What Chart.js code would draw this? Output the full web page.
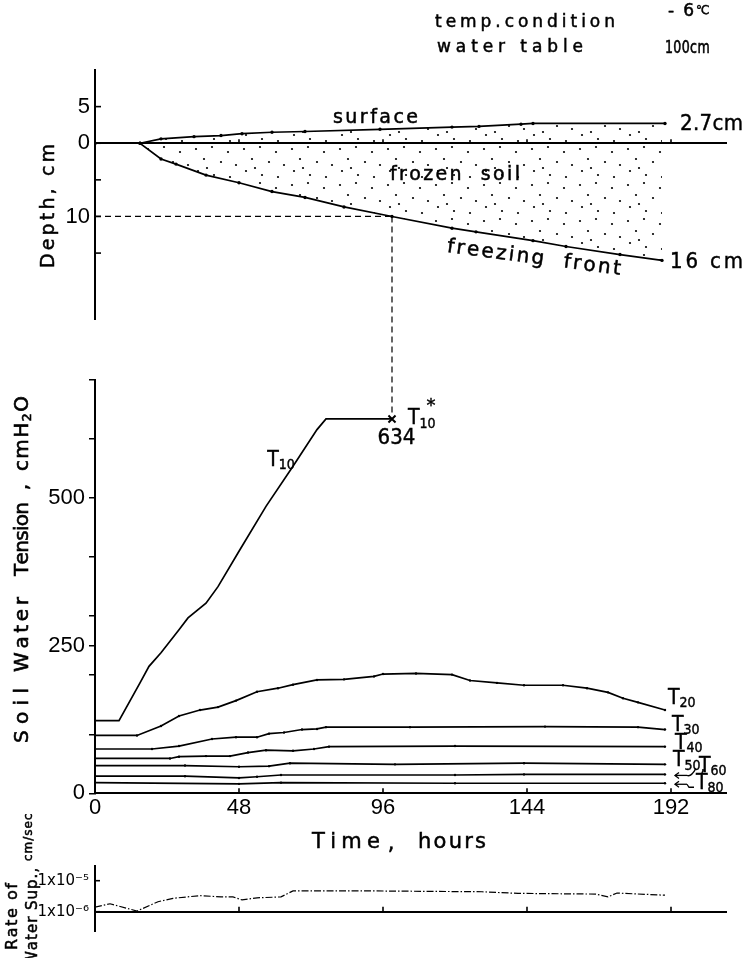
<!DOCTYPE html>
<html>
<head>
<meta charset="utf-8">
<script src="https://cdn.jsdelivr.net/npm/chart.js@4.4.1/dist/chart.umd.min.js"></script>
<style>
  html, body { margin: 0; padding: 0; background: #fff; }
  body { width: 746px; height: 958px; position: relative; overflow: hidden; }
  canvas { position: absolute; left: 0; top: 0; }
</style>
</head>
<body>
<canvas id="cA" width="746" height="958"></canvas>
<canvas id="cB" width="746" height="958"></canvas>
<canvas id="cC" width="746" height="958"></canvas>
<script>
// ================= DATA =================
const tickHours = [0, 48, 96, 144, 192];

// top panel: surface heave (cm above 0) and freezing front depth (cm below 0)
const surfaceHours  = [0, 15, 22, 33, 42, 49, 59, 70, 95, 119, 128, 142, 146, 190];
const surfaceHeight = [0, 0, 0.6, 0.9, 1.05, 1.3, 1.5, 1.6, 1.9, 2.2, 2.3, 2.6, 2.7, 2.7];
const frontHours = [0, 15, 22, 27, 37, 48, 59, 70, 83, 99, 119, 127, 146, 157, 175, 189];
const frontDepth = [0, 0, 2.15, 2.85, 4.35, 5.4, 6.6, 7.4, 8.7, 10.0, 11.6, 12.1, 13.3, 14.1, 15.2, 16.0];
const depthTickValues = [5, 0, -5, -10, -15];
const depthTickLabels = ['5', '0', '', '10', ''];

// freezing front reaches 10 cm -> T10 reading
const freezeHour = 99;
const freezeMarkDepth = 10;
const t10StarHour = 99;
const t10Star = 634;

// middle panel: soil water tension (cmH2O)
const t10Hours = [0, 8, 15, 18, 22, 28, 31, 37, 41, 48, 57, 66, 74, 77, 99];
const t10      = [123, 123, 187, 215, 238, 277, 297, 322, 350, 410, 486, 554, 616, 634, 634];
const t20Hours = [0, 14, 22, 28, 35, 41, 47, 54, 61, 66, 74, 83, 93, 96, 107, 119, 125, 134, 143, 156, 164, 171, 176, 181, 190];
const t20      = [98, 98, 114, 131, 141, 146, 157, 172, 178, 184, 192, 193, 198, 202, 203, 201, 191, 187, 183, 183, 178, 171, 161, 154, 141];
const t30Hours = [0, 19, 28, 39, 47, 54, 58, 63, 69, 74, 77, 105, 150, 181, 190];
const t30      = [75, 75, 80, 92, 95, 95, 101, 103, 108, 109, 112, 112, 113, 112, 108];
const t40Hours = [0, 25, 28, 37, 45, 51, 57, 66, 73, 78, 120, 190];
const t40      = [59, 59, 62, 63, 63, 69, 73, 72, 75, 79, 80, 79];
const t50Hours = [0, 30, 48, 58, 65, 100, 143, 190];
const t50      = [47, 47, 45, 46, 51, 49, 51, 49];
const t60Hours = [0, 30, 48, 54, 62, 120, 143, 190];
const t60      = [29, 29, 26, 28, 31, 31, 32, 32];
const t80Hours = [0, 48, 62, 120, 190];
const t80      = [18, 16, 18, 17, 17];
const tensionTickValues = [0, 100, 200, 250, 300, 400, 500, 600, 700];
const tensionTickLabels = ['0', '', '', '250', '', '', '500', '', ''];

// bottom panel: rate of water supply (cm/sec)
const rateHours  = [0, 5, 14, 21, 26, 35, 42, 46, 49, 54, 62, 66, 78, 89, 129, 141, 167, 171, 174, 190];
const rateValues = [1.4e-6, 1.8e-6, 1.05e-6, 2.1e-6, 2.7e-6, 3.3e-6, 3.0e-6, 3.0e-6, 2.4e-6, 2.8e-6, 3.0e-6, 4.7e-6, 4.7e-6, 4.7e-6, 4.4e-6, 3.9e-6, 3.7e-6, 3.0e-6, 4.0e-6, 3.4e-6];
const rateTickValues = [1e-6, 1e-5];
const rateTickLabels = ['1x10⁻⁶', '1x10⁻⁵'];

// ================= STYLE / HELPERS =================
const SANS = '"DejaVu Sans", "Liberation Sans", sans-serif';
const LIB = '"Liberation Sans", Arial, sans-serif';
const NARROW = '"Liberation Sans Narrow", "DejaVu Sans Condensed", "Liberation Sans", sans-serif';
const X_MAX = 210.5;
const PAD_RIGHT = 19.5;
const RATE_MIN = Math.pow(10, -6.645);
const RATE_MAX = Math.pow(10, -4.526);

Chart.defaults.color = '#000';
Chart.defaults.animation = false;
Chart.defaults.events = [];
Chart.defaults.plugins.legend.display = false;
Chart.defaults.plugins.tooltip.enabled = false;

function xy(xs, ys, sign) { sign = sign || 1; return xs.map((x, i) => ({ x: x, y: sign * ys[i] })); }
function setTicks(vals) { return s => { s.ticks = vals.map(v => ({ value: v })); }; }
function fixedWidth(w) { return s => { s.width = w; }; }
function lookup(vals, labels) { return v => { const i = vals.indexOf(v); return i < 0 ? '' : labels[i]; }; }

function xScale(extra) {
  return Object.assign({
    type: 'linear', min: 0, max: X_MAX,
    afterBuildTicks: setTicks(tickHours),
    grid: { display: false, drawTicks: false },
    border: { display: true, color: '#000', width: 2 },
    ticks: { display: false }
  }, extra);
}

function segFont(s) { return (s.b ? 'bold ' : '') + s.s + 'px ' + (s.f || SANS); }
function measureRich(ctx, segs) {
  let w = 0, n = 0;
  segs.forEach(s => {
    ctx.font = segFont(s);
    w += (s.dx || 0);
    for (const ch of s.t) { w += ctx.measureText(ch).width; n++; }
  });
  return { w, n };
}
function drawRich(ctx, it, x, y) {
  ctx.save();
  ctx.translate(x, y);
  if (it.rot) ctx.rotate(it.rot * Math.PI / 180);
  const sx = it.sx || 1;
  const m = measureRich(ctx, it.segs);
  let ls = it.ls || 0;
  if (it.width) ls = (it.width / sx - m.w) / Math.max(1, m.n - 1);
  const total = (m.w + ls * (m.n - 1)) * sx;
  let cx = it.align === 'left' ? 0 : it.align === 'right' ? -total : -total / 2;
  ctx.translate(cx, 0);
  if (sx !== 1) ctx.scale(sx, 1);
  cx = 0;
  ctx.fillStyle = '#000';
  ctx.strokeStyle = '#000';
  ctx.lineWidth = it.heavy || 0;
  ctx.textBaseline = 'middle';
  ctx.textAlign = 'left';
  it.segs.forEach(s => {
    ctx.font = segFont(s);
    cx += (s.dx || 0);
    for (const ch of s.t) {
      ctx.fillText(ch, cx, s.dy || 0);
      if (it.heavy) ctx.strokeText(ch, cx, s.dy || 0);
      cx += ctx.measureText(ch).width + ls;
    }
  });
  ctx.restore();
}
function decoPlugin(items, extra) {
  return {
    id: 'deco',
    afterDraw(chart) {
      const ctx = chart.ctx;
      items.forEach(it => {
        let x, y;
        if (it.at) { x = chart.scales.x.getPixelForValue(it.at[0]); y = chart.scales.y.getPixelForValue(it.at[1]); }
        else { x = it.page[0]; y = it.page[1]; }
        drawRich(ctx, it, x + (it.dx || 0), y + (it.dy || 0));
      });
      if (extra) extra(chart, ctx);
    }
  };
}
function tickMarks(list) {
  return {
    id: 'tickMarks',
    afterDraw(chart) {
      const ctx = chart.ctx;
      ctx.save(); ctx.strokeStyle = '#000'; ctx.lineWidth = 1.6;
      list.forEach(o => {
        const s = chart.scales[o.axis];
        s.ticks.forEach(t => {
          if (o.skip && o.skip.indexOf(t.value) >= 0) return;
          const p = s.getPixelForValue(t.value);
          ctx.beginPath();
          if (o.axis === 'x') {
            const yl = (o.lineAt !== undefined) ? chart.scales.y.getPixelForValue(o.lineAt) : s.top;
            ctx.moveTo(p, yl); ctx.lineTo(p, yl - o.len);
          } else {
            ctx.moveTo(s.right, p); ctx.lineTo(s.right + o.len, p);
          }
          ctx.stroke();
        });
      });
      ctx.restore();
    }
  };
}
function makeStipple(ctx) {
  const c = document.createElement('canvas'); c.width = 48; c.height = 36;
  const g = c.getContext('2d'); g.fillStyle = '#000';
  [[4,5],[20,3],[36,8],[12,15],[29,18],[44,21],[6,27],[22,31],[38,33],[15,24]].forEach(p => {
    g.beginPath(); g.arc(p[0], p[1], 1.1, 0, Math.PI * 2); g.fill();
  });
  return ctx.createPattern(c, 'repeat');
}
function lineDS(label, hours, vals, pr) {
  return { label, data: xy(hours, vals), borderColor: '#000', borderWidth: 1.7, tension: 0,
           pointRadius: pr, pointBackgroundColor: '#000', pointBorderWidth: 0, fill: false };
}
function T(sub, extra) { return [{ t: 'T', s: 21, f: NARROW }, { t: sub, s: 14, f: NARROW, dy: 5 }].concat(extra || []); }
const endOf = (h, v) => [h[h.length - 1], v[v.length - 1]];

// ================= TOP PANEL =================
const ctxA = document.getElementById('cA').getContext('2d');
const itemsA = [
  { page: [435, 23], align: 'left', width: 180, heavy: 0.5, segs: [{ t: 'temp.condition', s: 17 }] },
  { page: [668, 12], align: 'left', heavy: 0.5, segs: [{ t: '-', s: 17 }, { t: '6', s: 17, dx: 9 }, { t: '℃', s: 12, dx: 2, dy: -1 }] },
  { page: [437, 48], align: 'left', width: 146, heavy: 0.5, segs: [{ t: 'water table', s: 17 }] },
  { page: [665, 49], align: 'left', sx: 0.74, ls: 0.5, heavy: 0.6, segs: [{ t: '100cm', s: 17 }] },
  { at: [93.5, 3.4], width: 85, heavy: 0.5, segs: [{ t: 'surface', s: 19 }] },
  { at: endOf(surfaceHours, surfaceHeight), dx: 15, dy: 1, align: 'left', width: 63, heavy: 0.4, segs: [{ t: '2.7cm', s: 22, f: NARROW }] },
  { at: [120, -4.34], width: 130, heavy: 0.5, segs: [{ t: 'frozen  soil', s: 19 }] },
  { at: [146.3, -15.7], rot: 7.5, width: 175, heavy: 0.5, segs: [{ t: 'freezing  front', s: 20 }] },
  { at: [frontHours[frontHours.length - 1], -frontDepth[frontDepth.length - 1]], dx: 8, dy: 2, align: 'left', width: 73, heavy: 0.4, segs: [{ t: '16 cm', s: 22, f: NARROW }] },
  { page: [49, 206], rot: -90, width: 124, heavy: 0.5, segs: [{ t: 'Depth, cm', s: 19 }] }
];
new Chart('cA', {
  type: 'line',
  data: { datasets: [
    { label: 'surface', data: xy(surfaceHours, surfaceHeight), borderColor: '#000', borderWidth: 1.7, tension: 0,
      pointRadius: 1.7, pointBackgroundColor: '#000', pointBorderWidth: 0, fill: false },
    { label: 'freezing front', data: xy(frontHours, frontDepth, -1), borderColor: '#000', borderWidth: 1.7, tension: 0,
      pointRadius: 1.7, pointBackgroundColor: '#000', pointBorderWidth: 0,
      fill: { target: 0 }, backgroundColor: makeStipple(ctxA) },
    { label: 'guide', data: [{ x: 0, y: -freezeMarkDepth }, { x: freezeHour, y: -freezeMarkDepth }],
      borderColor: '#000', borderWidth: 1.2, borderDash: [6, 4], pointRadius: 0, fill: false }
  ] },
  options: {
    responsive: false, devicePixelRatio: 1,
    layout: { padding: { top: 70, bottom: 958 - 319, left: 0, right: PAD_RIGHT } },
    scales: {
      x: xScale({ position: { y: 0 } }),
      y: { type: 'linear', min: -24, max: 10, afterFit: fixedWidth(95), afterBuildTicks: setTicks(depthTickValues),
           grid: { display: false, drawTicks: false }, border: { display: true, color: '#000', width: 2 },
           ticks: { padding: 5, autoSkip: false, font: { family: LIB, size: 22 }, callback: lookup(depthTickValues, depthTickLabels) } }
    }
  },
  plugins: [tickMarks([{ axis: 'x', lineAt: 0, len: 4, skip: [0] }, { axis: 'y', len: 6 }]), decoPlugin(itemsA)]
});

// ================= MIDDLE PANEL =================
const itemsB = [
  { at: [62, 564], heavy: 0.4, segs: T('10') },
  { at: [t10StarHour, t10Star], dx: 4.5, dy: 19.6, heavy: 0.4, segs: [{ t: '634', s: 22, f: NARROW }] },
  { at: [t10StarHour, t10Star], dx: 16, dy: 0, align: 'left', heavy: 0.4, segs: T('10', [{ t: '*', s: 18, dx: -9, dy: -13 }]) },
  { at: endOf(t20Hours, t20), dx: 3, dy: -11.4, align: 'left', heavy: 0.4, segs: T('20') },
  { at: endOf(t30Hours, t30), dx: 7, dy: -4, align: 'left', heavy: 0.4, segs: T('30') },
  { at: endOf(t40Hours, t40), dx: 10, dy: -3, align: 'left', heavy: 0.4, segs: T('40') },
  { at: endOf(t50Hours, t50), dx: 8, dy: -3.4, align: 'left', heavy: 0.4, segs: T('50', [{ t: ',', s: 15, dy: 6 }]) },
  { at: endOf(t60Hours, t60), dx: 34, dy: -8, align: 'left', heavy: 0.4, segs: T('60') },
  { at: endOf(t80Hours, t80), dx: 31, dy: 0, align: 'left', heavy: 0.4, segs: T('80') },
  { page: [346, 843], width: 68, heavy: 0.5, segs: [{ t: 'Time', s: 21 }] },
  { page: [391, 845], heavy: 0.5, segs: [{ t: ',', s: 21 }] },
  { page: [452, 843], width: 68, heavy: 0.5, segs: [{ t: 'hours', s: 21 }] },
  { page: [23, 715.5], rot: -90, width: 55, heavy: 0.6, segs: [{ t: 'Soil', s: 20 }] },
  { page: [23, 634.5], rot: -90, width: 75, heavy: 0.6, segs: [{ t: 'Water', s: 20 }] },
  { page: [23, 539], rot: -90, width: 74, heavy: 0.6, segs: [{ t: 'Tension', s: 20 }] },
  { page: [23, 487], rot: -90, heavy: 0.6, segs: [{ t: ',', s: 20 }] },
  { page: [23, 433.5], rot: -90, width: 75, heavy: 0.6, segs: [{ t: 'cmH', s: 20 }, { t: '2', s: 13, dy: 5 }, { t: 'O', s: 20 }] }
];
function leaders(chart, ctx) {
  const xs = chart.scales.x, ys = chart.scales.y;
  // vertical guide from the freezing-front mark in the top panel down to T10*
  const a = Chart.getChart('cA');
  if (a) {
    const gx = xs.getPixelForValue(freezeHour);
    const y1 = a.scales.y.getPixelForValue(-freezeMarkDepth);
    const y2 = ys.getPixelForValue(t10Star) - 6;
    ctx.save(); ctx.strokeStyle = '#000'; ctx.lineWidth = 1.2; ctx.setLineDash([6, 4]);
    ctx.beginPath(); ctx.moveTo(gx, y1); ctx.lineTo(gx, y2); ctx.stroke(); ctx.restore();
  }
  // little arrows for T60 / T80
  ctx.save(); ctx.strokeStyle = '#000'; ctx.lineWidth = 1.3;
  const e60 = endOf(t60Hours, t60), e80 = endOf(t80Hours, t80);
  const p60 = [xs.getPixelForValue(e60[0]), ys.getPixelForValue(e60[1])];
  const p80 = [xs.getPixelForValue(e80[0]), ys.getPixelForValue(e80[1])];
  [[p60, 0], [p80, 1]].forEach(([p, k]) => {
    const x0 = p[0] + 10, x1 = p[0] + 22, y = p[1] + 1;
    ctx.beginPath(); ctx.moveTo(x1, y); ctx.lineTo(x0, y); ctx.stroke();
    ctx.beginPath(); ctx.moveTo(x0 + 4, y - 3); ctx.lineTo(x0, y); ctx.lineTo(x0 + 4, y + 3); ctx.stroke();
    ctx.beginPath(); ctx.moveTo(x1, y);
    if (k === 0) { ctx.quadraticCurveTo(x1 + 4, y + 2, x1 + 9, y - 7); }
    else { ctx.lineTo(x1 + 2, y + 3); ctx.lineTo(x1 + 7, y + 3); }
    ctx.stroke();
  });
  ctx.restore();
}
new Chart('cB', {
  type: 'line',
  data: { datasets: [
    lineDS('T10', t10Hours, t10, 0),
    lineDS('T20', t20Hours, t20, 1.2),
    lineDS('T30', t30Hours, t30, 1.2),
    lineDS('T40', t40Hours, t40, 1.2),
    lineDS('T50', t50Hours, t50, 1.2),
    lineDS('T60', t60Hours, t60, 1.2),
    lineDS('T80', t80Hours, t80, 1.2),
    { label: 'T10*', data: [{ x: t10StarHour, y: t10Star }], showLine: false, pointStyle: 'crossRot',
      pointRadius: 5, pointBorderColor: '#000', pointBorderWidth: 2 }
  ] },
  options: {
    responsive: false, devicePixelRatio: 1,
    layout: { padding: { top: 380, bottom: 958 - 793.3 - 40, left: 0, right: PAD_RIGHT } },
    scales: {
      x: xScale({ position: 'bottom', afterFit: s => { s.height = 40; },
                  ticks: { display: true, padding: 1, maxRotation: 0, autoSkip: false, font: { family: LIB, size: 22 } } }),
      y: { type: 'linear', min: 0, max: 700, afterFit: fixedWidth(95), afterBuildTicks: setTicks(tensionTickValues),
           grid: { display: true, drawOnChartArea: false, drawTicks: true, tickLength: 6, color: '#000', lineWidth: 1.5 },
           border: { display: true, color: '#000', width: 2 },
           ticks: { padding: 4, autoSkip: false, font: { family: LIB, size: 22 }, callback: lookup(tensionTickValues, tensionTickLabels) } }
    }
  },
  plugins: [tickMarks([{ axis: 'x', len: 5, skip: [0] }]), decoPlugin(itemsB, leaders)]
});

// ================= BOTTOM PANEL =================
const itemsC = [
  { page: [13, 916.5], rot: -90, width: 67, heavy: 0.5, segs: [{ t: 'Rate of', s: 16 }] },
  { page: [33, 966], rot: -90, align: 'left', ls: 1, heavy: 0.5, segs: [{ t: 'Water Sup., ', s: 15 }, { t: 'cm/sec', s: 12, dy: -4 }] }
];
new Chart('cC', {
  type: 'line',
  data: { datasets: [
    { label: 'rate', data: xy(rateHours, rateValues), borderColor: '#000', borderWidth: 1.2,
      borderDash: [7, 2, 1.5, 2], pointRadius: 0, fill: false, tension: 0 }
  ] },
  options: {
    responsive: false, devicePixelRatio: 1,
    layout: { padding: { top: 866, bottom: 958 - 931.7, left: 0, right: PAD_RIGHT } },
    scales: {
      x: xScale({ position: { y: 1e-6 } }),
      y: { type: 'logarithmic', min: RATE_MIN, max: RATE_MAX, afterFit: fixedWidth(95), afterBuildTicks: setTicks(rateTickValues),
           grid: { display: false, drawTicks: false }, border: { display: true, color: '#000', width: 2 },
           ticks: { padding: 6, autoSkip: false, font: { family: SANS, size: 15 }, callback: lookup(rateTickValues, rateTickLabels) } }
    }
  },
  plugins: [tickMarks([{ axis: 'x', lineAt: 1e-6, len: 5, skip: [0] }, { axis: 'y', len: 5 }]), decoPlugin(itemsC)]
});
</script>
</body>
</html>
